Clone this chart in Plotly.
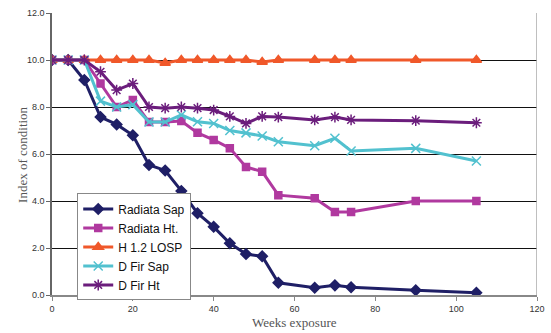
import plotly.graph_objects as go

weeks = [0, 4, 8, 12, 16, 20, 24, 28, 32, 36, 40, 44, 48, 52, 56, 65, 70, 74, 90, 105]
radiata_sap = [10.0, 10.0, 9.15, 7.57, 7.26, 6.8, 5.53, 5.3, 4.43, 3.48, 2.9, 2.2, 1.74, 1.65, 0.52, 0.31, 0.41, 0.33, 0.2, 0.1]
radiata_ht = [10.0, 10.0, 10.0, 9.0, 8.0, 8.3, 7.36, 7.36, 7.4, 6.9, 6.6, 6.25, 5.45, 5.25, 4.25, 4.12, 3.53, 3.53, 4.0, 4.0]
losp = [10.0, 10.0, 10.0, 10.0, 10.0, 10.0, 10.0, 9.87, 10.0, 10.0, 10.0, 10.0, 10.0, 9.92, 10.0, 10.0, 10.0, 10.0, 10.0, 10.0]
dfir_sap = [10.0, 10.0, 10.0, 8.25, 8.0, 8.1, 7.36, 7.36, 7.66, 7.37, 7.3, 7.0, 6.9, 6.77, 6.52, 6.35, 6.67, 6.13, 6.24, 5.7]
dfir_ht = [10.0, 10.0, 10.0, 9.5, 8.72, 9.0, 8.0, 7.95, 8.0, 7.95, 7.87, 7.6, 7.3, 7.6, 7.57, 7.45, 7.57, 7.45, 7.42, 7.33]

series = [
    ("Radiata Sap", radiata_sap, "#1f1f66", "diamond", 8),
    ("Radiata Ht.", radiata_ht, "#b0399f", "square", 7),
    ("H 1.2 LOSP", losp, "#f0582a", "triangle-up", 9),
    ("D Fir Sap", dfir_sap, "#52c1cf", "x-thin-open", 9),
    ("D Fir Ht", dfir_ht, "#6b1d7c", "asterisk-open", 9),
]

fig = go.Figure()
for name, vals, color, sym, size in series:
    fig.add_trace(go.Scatter(
        x=weeks, y=vals, name=name, mode="lines+markers",
        line=dict(color=color, width=3),
        marker=dict(symbol=sym, size=size, color=color, line=dict(color=color, width=1.5)),
    ))

serif = "Liberation Serif, Times New Roman"
fig.update_layout(
    width=551, height=333,
    margin=dict(l=52, r=14, t=13, b=38),
    paper_bgcolor="white", plot_bgcolor="white",
    showlegend=True,
    legend=dict(
        x=0.052, y=0.36, xanchor="left", yanchor="top",
        bgcolor="white", bordercolor="#888888", borderwidth=1,
        font=dict(family="Liberation Sans, Arial", size=12, color="#111111"),
        tracegroupgap=0, itemwidth=30,
    ),
    font=dict(family="Liberation Sans, Arial", size=9, color="#333333"),
    annotations=[
        dict(text="Index of condition", xref="paper", yref="paper", x=-0.062, y=0.5,
             textangle=-90, showarrow=False, xanchor="center", yanchor="middle",
             font=dict(family=serif, size=13, color="#555555")),
        dict(text="Weeks exposure", xref="paper", yref="paper", x=0.5, y=-0.096,
             showarrow=False, xanchor="center", yanchor="middle",
             font=dict(family=serif, size=13, color="#555555")),
    ],
)
fig.update_xaxes(
    range=[0, 120], dtick=20, tick0=0, showgrid=False, zeroline=False,
    showline=True, linecolor="#888888", linewidth=1.5, automargin=False,
    ticks="outside", ticklen=4, tickcolor="#888888",
    tickfont=dict(family="Liberation Sans, Arial", size=9, color="#333333"),
)
fig.update_yaxes(
    range=[0, 12], dtick=2, tick0=0, tickformat=".1f",
    showgrid=True, gridcolor="#111111", gridwidth=1.2, zeroline=False,
    showline=True, linecolor="#666666", linewidth=1.5, automargin=False,
    ticks="outside", ticklen=4, tickcolor="#666666",
    tickfont=dict(family="Liberation Sans, Arial", size=9, color="#333333"),
)
fig.add_shape(type="line", xref="x", yref="y", x0=120, x1=120, y0=0, y1=12,
              line=dict(color="#aaaaaa", width=1.5))

fig.write_html("out.html")
